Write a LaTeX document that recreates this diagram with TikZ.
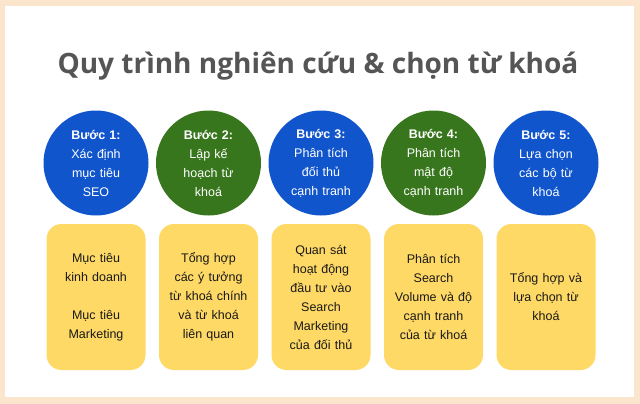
\documentclass[tikz,border=0pt]{standalone}
\usepackage{fontspec}
\setmainfont{Liberation Sans}
\newfontfamily\titlefont{Open Sans}
\usepackage{xcolor}
\definecolor{stepblue}{HTML}{1155CC}
\definecolor{stepgreen}{HTML}{38761D}
\definecolor{taskyellow}{HTML}{FFD966}
\definecolor{framebeige}{HTML}{FCE5CD}
\definecolor{titlegray}{HTML}{555555}
\tikzset{
  stepdot/.style={circle,inner sep=0pt,minimum size=105pt,text width=70pt,
    align=center,text=white,font=\fontsize{12.5}{19}\selectfont},
  taskbox/.style={rectangle,rounded corners=15pt,fill=taskyellow,inner sep=0pt,
    minimum width=99pt,minimum height=146pt,text width=95pt,align=center,
    text=black!90,font=\fontsize{12.5}{19}\selectfont}
}

\begin{document}
\begin{tikzpicture}[x=1pt,y=-1pt]
% frame and white panel
  \useasboundingbox (0,0) rectangle (640,404);
  \fill[framebeige] (0,0) rectangle (640,404);
  \fill[white] (5,6) rectangle (634,397);
  \node[text=titlegray,font=\titlefont\bfseries\fontsize{28}{32}\selectfont] (title) at (318,66)
    {Quy trình nghiên cứu \& chọn từ khoá};
% steps: circle above, task below
  \foreach \i/\col/\steptext/\tasktext in {
      1/stepblue/{Xác định\\mục tiêu\\SEO}/{Mục tiêu\\kinh doanh\\[19pt]Mục tiêu\\Marketing},
      2/stepgreen/{Lập kế\\hoạch từ\\khoá}/{Tổng hợp\\các ý tưởng\\từ khoá chính\\và từ khoá\\liên quan},
      3/stepblue/{Phân tích\\đối thủ\\cạnh tranh}/{Quan sát\\hoạt động\\đầu tư vào\\Search\\Marketing\\của đối thủ},
      4/stepgreen/{Phân tích\\mật độ\\cạnh tranh}/{Phân tích\\Search\\Volume và độ\\cạnh tranh\\của từ khoá},
      5/stepblue/{Lựa chọn\\các bộ từ\\khoá}/{Tổng hợp và\\lựa chọn từ\\khoá}} {
    \node[stepdot,fill=\col] (step\i) at ({96+112.5*(\i-1)},163) {\textbf{Bước \i:}\\\steptext};
    \node[taskbox] (task\i) at ({96+112.5*(\i-1)},297) {\tasktext};
  }
\end{tikzpicture}
\end{document}
